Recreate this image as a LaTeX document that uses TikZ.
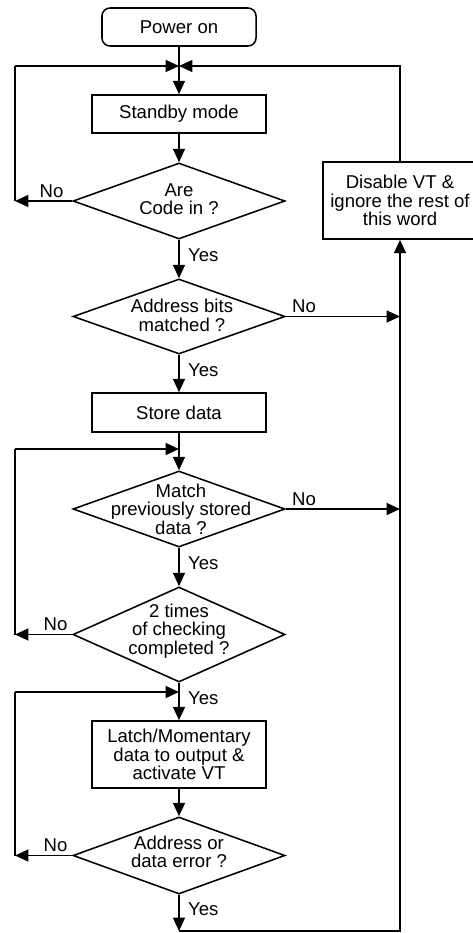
\documentclass[tikz,border=0pt]{standalone}
\usepackage{fontspec}
\setmainfont{Liberation Sans}
\usetikzlibrary{shapes.geometric,arrows.meta}
\begin{document}
\begin{tikzpicture}[>={Triangle[length=9.5pt,width=8.5pt]}, x=0.025cm, y=-0.025cm, line width=1.1pt,
	font=\fontsize{13.2}{13.2}\selectfont,
	box/.style={draw, minimum width=4.35cm, minimum height=0.95cm, align=center, inner sep=0pt},
	test/.style={draw, diamond, minimum width=5.3cm, minimum height=1.9cm, inner sep=0pt},
	txt/.style={align=center, inner sep=0pt},
	lbl/.style={inner sep=2pt}]
\useasboundingbox (0,0) rectangle (473,933);
	% boxes
	\node[box, rounded corners=0.2cm, minimum width=3.85cm] (pwr) at (179,27) {Power on};
	\node[box] (stby) at (179,114) {Standby mode};
	\node[box, minimum width=3.85cm, minimum height=1.925cm] (dis) at (400,200.5) {Disable VT \&\\ignore the rest of\\this word};
	\node[box, minimum height=0.975cm] (store) at (179,412.5) {Store data};
	\node[box, minimum height=1.675cm] (latch) at (179,754.5) {Latch/Momentary\\data to output \&\\activate VT};
	% tests
	\node[test] (code) at (179,201) {};
	\node[txt] (code-t) at (179,199) {Are\\Code in ?};
	\node[test, minimum height=1.875cm] (addr) at (179,316.5) {};
	\node[txt] (addr-t) at (182,315.5) {Address bits\\matched ?};
	\node[test] (match) at (179,509) {};
	\node[txt] (match-t) at (181,509) {Match\\previously stored\\data ?};
	\node[test, minimum height=2.375cm] (twice) at (179,634.5) {};
	\node[txt] (twice-t) at (179,631) {2 times\\of checking\\completed ?};
	\node[test, minimum height=1.925cm] (err) at (179,855.5) {};
	\node[txt] (err-t) at (179,852) {Address or\\data error ?};
	% corners
	\coordinate (J) at (179,66);
	\coordinate (JL) at (15,66);
	\coordinate (L2) at (15,449);
	\coordinate (M2) at (179,449);
	\coordinate (L3) at (15,692);
	\coordinate (M3) at (179,692);
	\coordinate (B) at (179,931);

	\draw[->](pwr)--(stby);
	\draw[->](JL)--(J);
	\draw[->](dis.north)|-(J);
	\draw[->](stby)--(code);
	\draw[->](code.west)--node[lbl,above,pos=.36](no1){No}(code.west-|JL);
	\draw(code.west-|JL)--(JL);
	\draw[->](code)--node[lbl,right=4pt,pos=.4](yes1){Yes}(addr);
	\draw[->](addr.east)--node[lbl,above,pos=.16](no2){No}(addr.east-|dis.south);
	\draw[->](addr)--node[lbl,right=4pt,pos=.4](yes2){Yes}(store);
	\draw[->](store)--(match);
	\draw[->](L2)--(M2);
	\draw[->](match.east)--node[lbl,above,pos=.16](no3){No}(match.east-|dis.south);
	\draw[->](match)--node[lbl,right=4pt,pos=.4](yes3){Yes}(twice);
	\draw[->](twice.west)--node[lbl,above,pos=.29](no4){No}(twice.west-|L2);
	\draw(twice.west-|L2)--(L2);
	\draw[->](twice)--node[lbl,right=4pt,pos=.4](yes4){Yes}(latch);
	\draw[->](L3)--(M3);
	\draw[->](latch)--(err);
	\draw[->](err.west)--node[lbl,above,pos=.29](no5){No}(err.west-|L3);
	\draw(err.west-|L3)--(L3);
	\draw[->](err)--node[lbl,right=4pt,pos=.4](yes5){Yes}(B);
	\draw[->](B)-|(dis.south);

\end{tikzpicture}
\end{document}
